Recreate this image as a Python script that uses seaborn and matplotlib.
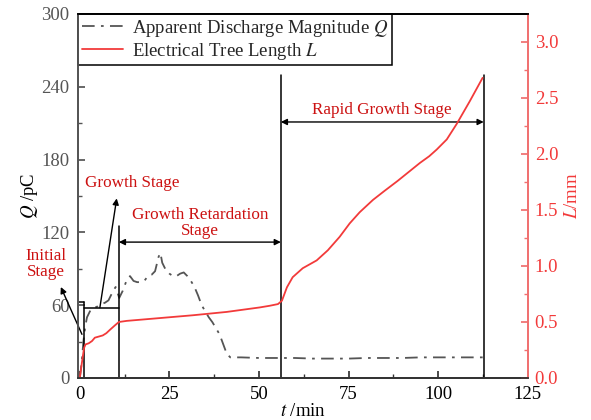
import numpy as np
import pandas as pd
import seaborn as sns
import matplotlib.pyplot as plt

# apparent discharge magnitude Q (pC)
t_q = [0, 0.5, 1, 1.5, 2, 3, 4, 5, 6, 7, 8, 9, 10, 11, 12, 13, 14, 15, 16, 17, 18, 19,
       20, 21, 22, 22.5, 23, 24, 25, 26, 27, 28, 29, 30, 31, 32, 33, 34, 35, 36, 37, 38,
       39, 40, 41, 42, 45, 50, 55, 60, 65, 70, 75, 80, 85, 90, 95, 100, 105, 110, 112.5]
q_vals = [0, 12, 30, 42, 50, 56, 58, 59, 61, 62, 64, 70, 75, 66, 72, 80, 84, 80, 79, 79, 80, 84,
          85, 88, 100, 103, 95, 89, 86, 84, 84, 86, 87, 84, 80, 75, 68, 60, 55, 50, 46, 41,
          36, 28, 20, 17, 17, 16.5, 16.5, 16.5, 16, 16, 16, 16.5, 16.5, 16.5, 17, 17, 17, 17, 17]

# electrical tree length L (mm)
t_l = [0, 0.6, 1.2, 1.6, 2.5, 3.4, 4.2, 5.3, 6.4, 7.4, 8.4, 9.8, 10.9, 13.1, 22.3, 31.5, 41,
       50.2, 53, 55.3, 56.4, 57.8, 59.4, 62.2, 66.1, 69.2, 72.5, 75.3, 78.1, 81.8, 85, 88.7,
       91.8, 94.9, 97.5, 99.6, 102.4, 105.2, 108.8, 112.4]
l_vals = [0, 0.14, 0.27, 0.30, 0.31, 0.33, 0.36, 0.37, 0.38, 0.40, 0.43, 0.47, 0.50, 0.51,
          0.535, 0.56, 0.59, 0.63, 0.645, 0.66, 0.69, 0.81, 0.90, 0.98, 1.05, 1.14, 1.26, 1.38,
          1.48, 1.59, 1.67, 1.76, 1.84, 1.92, 1.98, 2.04, 2.13, 2.27, 2.47, 2.68]

df_q = pd.DataFrame({"t": t_q, "Q": q_vals})
df_l = pd.DataFrame({"t": t_l, "L": l_vals})

sns.set_theme(style="ticks")
plt.rcParams["font.family"] = ["Liberation Serif", "DejaVu Serif"]
plt.rcParams["mathtext.fontset"] = "stix"

red = "#f23a3a"
axred = "#f07070"
txtred = "#cc1111"
gray = "#555555"

fig = plt.figure(figsize=(5.91, 4.2), dpi=100)
ax = fig.add_axes([0.132, 0.1, 0.761, 0.8667])
ax2 = ax.twinx()

sns.lineplot(data=df_q, x="t", y="Q", ax=ax, color=gray, lw=1.3, sort=False, estimator=None,
             linestyle=(0, (7, 3.5, 1.5, 3.5)), label="Apparent Discharge Magnitude $Q$", legend=False)
sns.lineplot(data=df_l, x="t", y="L", ax=ax2, color=red, lw=1.3, sort=False, estimator=None,
             label="Electrical Tree Length $L$", legend=False)

ax.set_xlim(-0.5, 125)
ax.set_ylim(0, 300)
ax2.set_ylim(0, 3.25)
ax.set_xticks([0, 25, 50, 75, 100, 125])
ax.set_xticks(np.arange(12.5, 125, 25), minor=True)
ax.set_yticks(np.arange(0, 301, 60))
ax.set_yticks(np.arange(30, 300, 60), minor=True)
ax2.set_yticks([0, 0.5, 1.0, 1.5, 2.0, 2.5, 3.0])
ax2.set_yticks(np.arange(0.25, 3.25, 0.5), minor=True)

ax.set_xlabel("$t$ /min", fontsize=13.5, labelpad=0, color="black")
ax.set_ylabel("$Q$ /pC", fontsize=13.5, labelpad=1, color="black")
ax2.set_ylabel("$L$/mm", fontsize=13.5, labelpad=4, color=red)

ax.tick_params(axis="both", which="both", direction="in", labelsize=13.5)
ax.tick_params(axis="y", colors=gray, which="both", pad=6)
ax.tick_params(axis="x", colors="#333333", labelcolor="black", pad=6)
ax.tick_params(axis="x", which="minor", colors="#333333")
ax.tick_params(which="major", length=5)
ax.tick_params(which="minor", length=3)
ax2.tick_params(axis="y", which="both", direction="in", colors=axred, labelcolor=red,
                labelsize=13.5, pad=5)
ax2.tick_params(which="major", length=5)
ax2.tick_params(which="minor", length=3)
for a in (ax, ax2):
    a.spines["left"].set_color(gray)
    a.spines["bottom"].set_color("#333333")
    a.spines["top"].set_color("black")
    a.spines["right"].set_color(axred)
    for s in a.spines.values():
        s.set_linewidth(1.3)

# stage markers
lc = "black"
ax.plot([1.2, 1.2], [0, 63], color=lc, lw=1.1)
ax.plot([-0.5, 1.2], [63, 63], color=lc, lw=1.1)
ax.plot([1.2, 10.9], [57.5, 57.5], color=lc, lw=1.1)
ax.plot([10.9, 10.9], [0, 125], color=lc, lw=1.1)
ax.plot([56.1, 56.1], [0, 250], color=lc, lw=1.1)
ax.plot([112.7, 112.7], [0, 250], color=lc, lw=1.1)

arr = dict(arrowstyle="<|-|>", color=lc, lw=1.0, mutation_scale=9, shrinkA=0, shrinkB=0)
ax.annotate("", xy=(10.9, 112), xytext=(56.1, 112), arrowprops=arr)
ax.annotate("", xy=(56.1, 211), xytext=(112.7, 211), arrowprops=arr)
one = dict(arrowstyle="-|>", color=lc, lw=1.0, mutation_scale=9, shrinkA=0, shrinkB=0)
ax.annotate("", xy=(10.3, 148), xytext=(5.6, 58), arrowprops=one)
ax.annotate("", xy=(-5.3, 75), xytext=(0.6, 36), arrowprops=one, annotation_clip=False)

fs = 12.3
ax.text(84.4, 221, "Rapid Growth Stage", color=txtred, fontsize=fs, ha="center", va="center")
ax.text(33.5, 128, "Growth Retardation\nStage", color=txtred, fontsize=fs, ha="center",
        va="center", linespacing=1.0)
ax.text(14.5, 161, "Growth Stage", color=txtred, fontsize=fs, ha="center", va="center")
ax.text(-9.5, 94, "Initial\nStage", color=txtred, fontsize=fs, ha="center", va="center",
        linespacing=1.0, clip_on=False)

h1, l1 = ax.get_legend_handles_labels()
h2, l2 = ax2.get_legend_handles_labels()
leg = ax.legend(h1 + h2, l1 + l2, loc="upper left", bbox_to_anchor=(0, 1), borderaxespad=0,
                fancybox=False, framealpha=1, edgecolor="black", fontsize=13.5,
                handlelength=2.2, borderpad=0.2, labelspacing=0.1, handletextpad=0.5)
leg.get_frame().set_linewidth(1.1)
leg.set_zorder(10)

fig.savefig("out.png", dpi=100)
